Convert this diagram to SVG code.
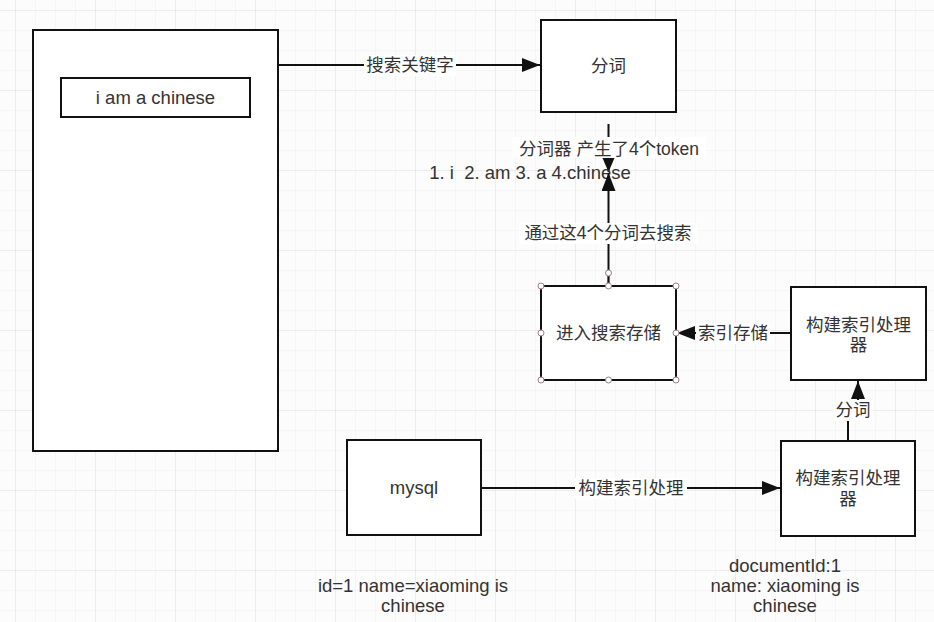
<svg xmlns="http://www.w3.org/2000/svg" width="934" height="622" viewBox="0 0 934 622">
  <style>
    .box { fill: #ffffff; stroke: #111111; stroke-width: 2; }
    .t { font-family: "Liberation Sans", "Noto Sans CJK SC", sans-serif; font-size: 17.5px; fill: #333333; text-anchor: middle; }
    .lat { font-size: 18.5px; }
    .edge { fill: none; stroke: #111111; stroke-width: 2; }
    .lbg { fill: #ffffff; }
    .h { fill: #ffffff; stroke: #9a7f86; stroke-width: 1; }
  </style>
  <defs>
    <pattern id="minor" patternUnits="userSpaceOnUse" x="15" y="10" width="20" height="20">
      <path d="M0,0 L20,0 M0,0 L0,20" stroke="#eeeeee" stroke-width="1" fill="none"/>
    </pattern>
    <pattern id="major" patternUnits="userSpaceOnUse" x="15" y="10" width="80" height="80">
      <path d="M0,0 L80,0 M0,0 L0,80" stroke="#e3e3e3" stroke-width="1" fill="none"/>
    </pattern>
    <marker id="arr" markerUnits="userSpaceOnUse" markerWidth="20" markerHeight="14" refX="18" refY="7" orient="auto">
      <path d="M0,0 L18,7 L0,14 z" fill="#111111"/>
    </marker>
    <marker id="arrs" markerUnits="userSpaceOnUse" markerWidth="16" markerHeight="14" refX="14" refY="7" orient="auto">
      <path d="M0,1 L14,7 L0,13 z" fill="#111111"/>
    </marker>
  </defs>

  <rect width="934" height="622" fill="#fcfcfc"/>
  <rect width="934" height="622" fill="url(#minor)"/>
  <rect width="934" height="622" fill="url(#major)"/>

  <g id="connectors">
    <path class="edge" d="M279,65 L540,65" marker-end="url(#arr)"/>
    <rect class="lbg" x="364" y="55" width="92" height="21"/>
    <text class="t" x="410" y="71">搜索关键字</text>

    <path class="edge" d="M608.5,124 L608.5,172" marker-end="url(#arrs)"/>
    <rect class="lbg" x="512" y="137" width="194" height="21"/>
    <text class="t" x="609" y="155">分词器 产生了4个token</text>
    <text class="t lat" x="530" y="179" xml:space="preserve">1. i  2. am 3. a 4.chinese</text>

    <path class="edge" d="M608.5,286 L608.5,173" marker-end="url(#arr)"/>
    <rect class="lbg" x="519" y="223" width="179" height="21"/>
    <text class="t" x="608" y="239">通过这4个分词去搜索</text>

    <path class="edge" d="M791,333 L677,333" marker-end="url(#arr)"/>
    <rect class="lbg" x="696" y="323" width="74" height="21"/>
    <text class="t" x="733" y="339">索引存储</text>

    <path class="edge" d="M848,441 L848,410 L858,410 L858,381" marker-end="url(#arr)"/>
    <rect class="lbg" x="833" y="400" width="40" height="21"/>
    <text class="t" x="853" y="416">分词</text>

    <path class="edge" d="M481,488 L780,488" marker-end="url(#arr)"/>
    <rect class="lbg" x="575" y="478" width="112" height="21"/>
    <text class="t" x="631" y="494">构建索引处理</text>
  </g>

  <g id="page">
    <rect class="box" x="33" y="30" width="245" height="421"/>
  </g>
  <g id="input">
    <rect class="box" x="61" y="78" width="189" height="39"/>
    <text class="t lat" x="155.5" y="104">i am a chinese</text>
  </g>
  <g id="fenci">
    <rect class="box" x="541" y="20" width="135" height="92"/>
    <text class="t" x="608.5" y="72">分词</text>
  </g>
  <g id="store">
    <rect class="box" x="541" y="286" width="135" height="94"/>
    <text class="t" x="608.5" y="339">进入搜索存储</text>
    <line x1="608.5" y1="276" x2="608.5" y2="286" stroke="#111" stroke-width="1.5"/>
    <circle class="h" cx="608.5" cy="273" r="3"/>
    <circle class="h" cx="541" cy="286" r="3"/>
    <circle class="h" cx="608.5" cy="286" r="3"/>
    <circle class="h" cx="676" cy="286" r="3"/>
    <circle class="h" cx="541" cy="333" r="3"/>
    <circle class="h" cx="676" cy="333" r="3"/>
    <circle class="h" cx="541" cy="380" r="3"/>
    <circle class="h" cx="608.5" cy="380" r="3"/>
    <circle class="h" cx="676" cy="380" r="3"/>
  </g>
  <g id="indexer-top">
    <rect class="box" x="791" y="287" width="135" height="93"/>
    <text class="t" x="858.5" y="331">构建索引处理</text>
    <text class="t" x="858.5" y="351">器</text>
  </g>
  <g id="mysql">
    <rect class="box" x="347" y="440" width="134" height="95"/>
    <text class="t lat" x="414" y="494">mysql</text>
  </g>
  <g id="indexer-bottom">
    <rect class="box" x="781" y="441" width="134" height="95"/>
    <text class="t" x="848" y="484">构建索引处理</text>
    <text class="t" x="848" y="505">器</text>
  </g>
  <g id="notes">
    <text class="t lat" x="413" y="592">id=1 name=xiaoming is</text>
    <text class="t lat" x="413" y="612">chinese</text>
    <text class="t lat" x="785" y="572">documentId:1</text>
    <text class="t lat" x="785" y="592">name: xiaoming is</text>
    <text class="t lat" x="785" y="612">chinese</text>
  </g>
</svg>
